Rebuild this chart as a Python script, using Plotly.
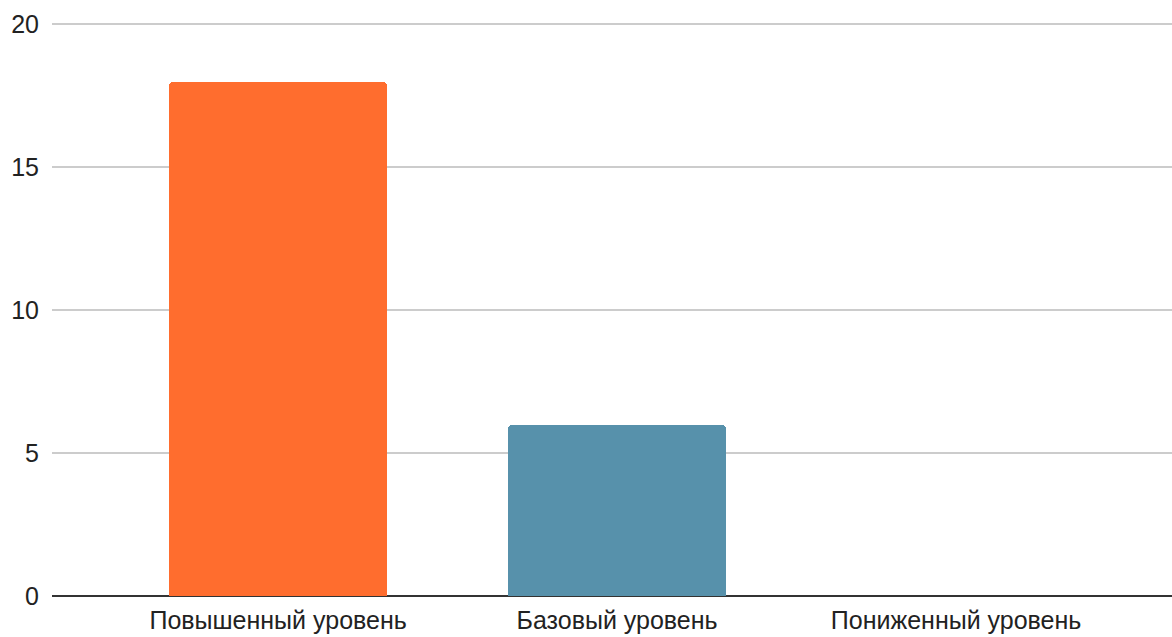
import plotly.graph_objects as go

categories = ["Повышенный уровень", "Базовый уровень", "Пониженный уровень"]
values = [18, 6, 0]
bar_colors = ["#FF6D2E", "#5791AB", "#C9C9C9"]
y_ticks = [0, 5, 10, 15, 20]

fig = go.Figure(
    go.Bar(
        x=list(range(len(categories))),
        y=values,
        width=0.643,
        marker=dict(color=bar_colors, cornerradius=4, line=dict(width=0)),
        hoverinfo="x+y",
    )
)

fig.update_layout(
    width=1172,
    height=637,
    margin=dict(l=52, r=0, t=23, b=41),
    paper_bgcolor="white",
    plot_bgcolor="white",
    showlegend=False,
    font=dict(family="Liberation Sans, Arial, sans-serif", size=25, color="#222222"),
    bargap=0,
)

fig.update_xaxes(
    range=[-0.667, 2.637],
    tickmode="array",
    tickvals=list(range(len(categories))),
    ticktext=categories,
    showgrid=False,
    showline=False,
    zeroline=False,
    ticks="",
    ticklabelstandoff=7,
    tickfont=dict(size=25, color="#222222"),
)

fig.update_yaxes(
    range=[0, 20.05],
    tickmode="array",
    tickvals=y_ticks,
    showgrid=True,
    gridcolor="#CCCCCC",
    gridwidth=1.5,
    zeroline=True,
    zerolinecolor="#333333",
    zerolinewidth=2,
    showline=False,
    ticks="",
    ticklabelstandoff=12,
    tickfont=dict(size=25, color="#222222"),
)

fig.write_html("out.html")
